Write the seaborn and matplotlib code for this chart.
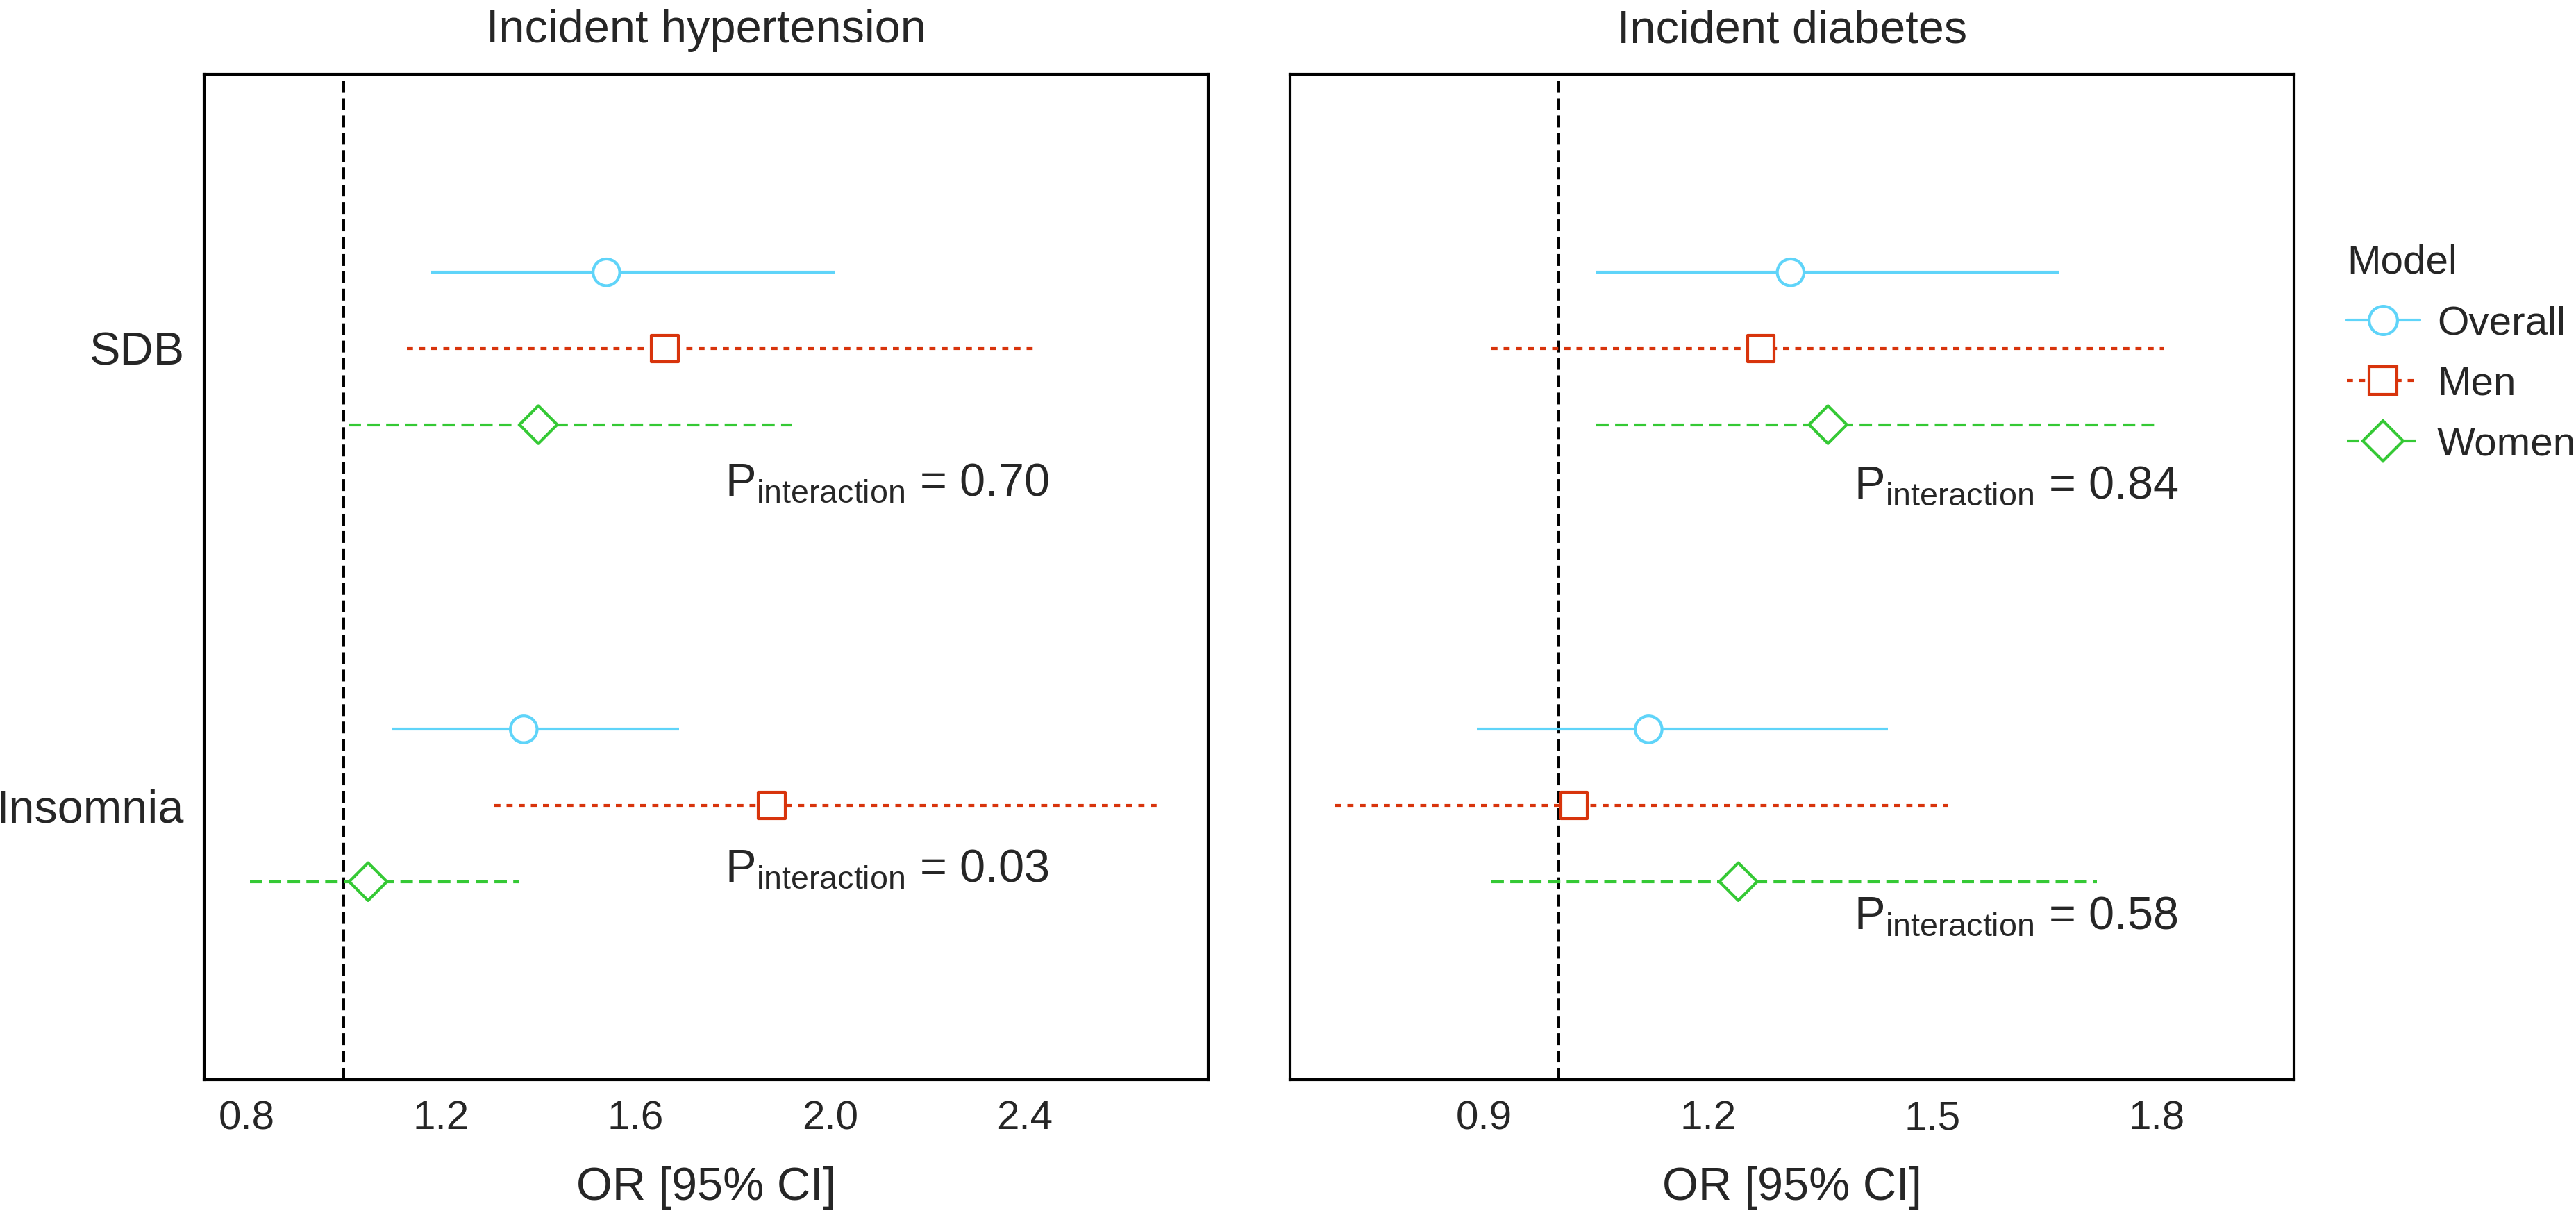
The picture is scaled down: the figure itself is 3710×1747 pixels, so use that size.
import pandas as pd
import seaborn as sns
import matplotlib.pyplot as plt
from matplotlib.lines import Line2D
from matplotlib.ticker import FormatStrFormatter

outcomes = ["Incident hypertension", "Incident diabetes"]
exposures = ["SDB", "Insomnia"]
models = ["Overall", "Men", "Women"]

# OR [95% CI], order: SDB (Overall, Men, Women), Insomnia (Overall, Men, Women)
htn_or = [1.54, 1.66, 1.40, 1.37, 1.88, 1.05]
htn_lo = [1.18, 1.13, 1.01, 1.10, 1.31, 0.807]
htn_hi = [2.01, 2.43, 1.92, 1.69, 2.68, 1.36]

dm_or = [1.31, 1.27, 1.36, 1.12, 1.02, 1.24]
dm_lo = [1.05, 0.91, 1.05, 0.89, 0.70, 0.91]
dm_hi = [1.67, 1.81, 1.80, 1.44, 1.52, 1.72]

p_interaction = {
    "Incident hypertension": ["0.70", "0.03"],
    "Incident diabetes": ["0.84", "0.58"],
}

colors = {"Overall": "#5FD4F9", "Men": "#D8340C", "Women": "#35C935"}
markers = {"Overall": "o", "Men": "s", "Women": "D"}
linestyles = {"Overall": "solid", "Men": (0, (2.1, 2.1)), "Women": (0, (4.3, 2.2))}

rows = []
for outcome, ors, los, his in [(outcomes[0], htn_or, htn_lo, htn_hi),
                               (outcomes[1], dm_or, dm_lo, dm_hi)]:
    for i, (o, l, h) in enumerate(zip(ors, los, his)):
        rows.append(dict(outcome=outcome, exposure=exposures[i // 3],
                         model=models[i % 3], OR=o, lo=l, hi=h))
df = pd.DataFrame(rows)

# dodge the three models inside each exposure row
dodge = {"Overall": -1 / 6, "Men": 0.0, "Women": 1 / 6}
df["y"] = df["exposure"].map({e: i for i, e in enumerate(exposures)}) + df["model"].map(dodge)

sns.set_theme(style="white")
plt.rcParams["font.family"] = ["Liberation Sans", "DejaVu Sans"]
plt.rcParams["mathtext.fontset"] = "custom"
plt.rcParams["mathtext.rm"] = "Liberation Sans"

W, H = 3711, 1747
fig = plt.figure(figsize=(W / 300, H / 300), dpi=300)
ax_w = 1446 / W
ax_h = (1555 - 107) / H
bottom = 1 - 1555 / H
axes = [fig.add_axes([294 / W, bottom, ax_w, ax_h]),
        fig.add_axes([1858 / W, bottom, ax_w, ax_h])]

xlims = {"Incident hypertension": (0.713, 2.777), "Incident diabetes": (0.640, 1.984)}
xticks = {"Incident hypertension": [0.8, 1.2, 1.6, 2.0, 2.4],
          "Incident diabetes": [0.9, 1.2, 1.5, 1.8]}
# annotation anchor (left x, baseline y) per row
p_pos = {"Incident hypertension": [(1.784, 0.321), (1.784, 1.166)],
         "Incident diabetes": [(1.395, 0.327), (1.395, 1.270)]}

for ax, outcome in zip(axes, outcomes):
    sub = df[df["outcome"] == outcome]
    ax.axvline(1.0, color="black", lw=0.95, dashes=(4.3, 2.0), zorder=1)
    for m in models:
        s = sub[sub["model"] == m]
        ax.hlines(s["y"], s["lo"], s["hi"], colors=colors[m],
                  linestyles=linestyles[m], linewidth=1.0, zorder=2)
    sns.scatterplot(data=sub, x="OR", y="y", hue="model", style="model",
                    hue_order=models, style_order=models, palette=colors,
                    markers=markers, s=85, linewidth=1.0, zorder=3,
                    legend=False, ax=ax)
    pts = ax.collections[-1]
    pts.set_edgecolors(pts.get_facecolors())
    pts.set_facecolors("white")

    for (px, py), p in zip(p_pos[outcome], p_interaction[outcome]):
        ax.text(px, py, r"$\mathregular{P_{interaction}}$ = " + p,
                fontsize=16, ha="left", va="baseline")

    ax.set_xlim(*xlims[outcome])
    ax.set_ylim(1.6, -0.6)
    ax.set_xticks(xticks[outcome])
    ax.xaxis.set_major_formatter(FormatStrFormatter("%.1f"))
    ax.set_yticks([0, 1])
    ax.set_yticklabels(exposures)
    ax.tick_params(axis="x", length=0, pad=7, labelsize=14)
    ax.tick_params(axis="y", length=0, pad=7, labelsize=16)
    ax.set_xlabel("OR [95% CI]", fontsize=16, labelpad=10)
    ax.set_ylabel("")
    ax.set_title(outcome, fontsize=16, pad=11)
    for sp in ax.spines.values():
        sp.set_color("black")
        sp.set_linewidth(1.0)

axes[1].set_yticklabels([])

handles = [Line2D([0], [0], color=colors[m], linestyle=linestyles[m], lw=1.0,
                  marker=markers[m], markersize=9.8, markerfacecolor="white",
                  markeredgecolor=colors[m], markeredgewidth=1.0)
           for m in models]
fig.legend(handles, models, title="Model", loc="upper left",
           bbox_to_anchor=(3380 / W, 1 - 352 / H), frameon=False,
           fontsize=14, title_fontsize=14, alignment="left",
           handlelength=1.8, handletextpad=0.43, labelspacing=0.57,
           borderpad=0, borderaxespad=0)

fig.savefig("out.png", dpi=300)
